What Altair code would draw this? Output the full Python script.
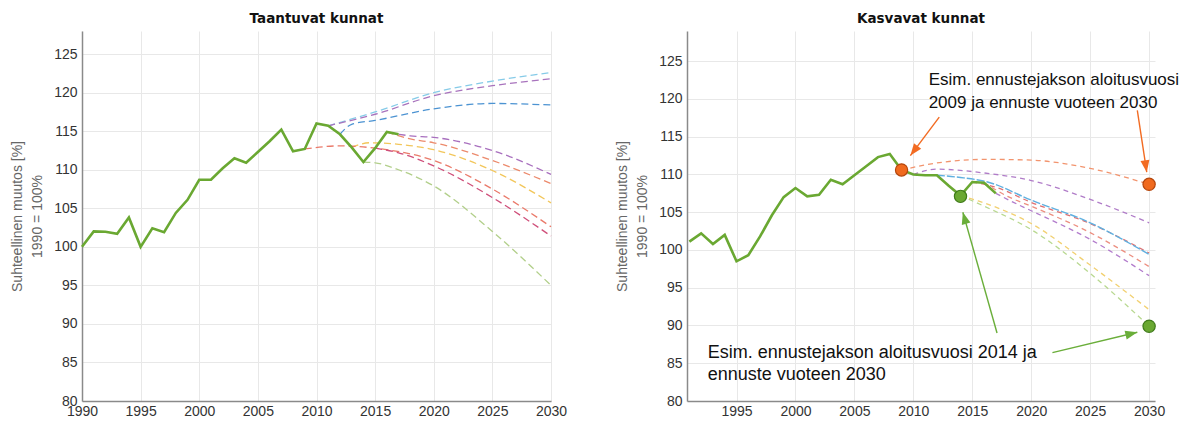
import math
import altair as alt
import pandas as pd

FONT = "Liberation Sans"

# ---------------- Left panel: Taantuvat kunnat ----------------
L_years = list(range(1990, 2018))
L_vals = [100.0, 102.0, 101.96, 101.7, 103.8, 100.0, 102.4, 101.9, 104.4, 106.1,
          108.7, 108.7, 110.2, 111.5, 110.9, 112.3, 113.7, 115.2, 112.4, 112.7,
          116.0, 115.7, 114.6, 112.9, 111.0, 112.8, 114.9, 114.6]

L_proj_names = ["cyan", "purple_up", "blue", "purple_lo", "salmon", "yellow", "red09", "crimson", "green"]
L_proj_colors = ["#86cbe8", "#a873bd", "#4c93d2", "#a86fbe", "#ec8a6c", "#f2c65a", "#ea7a6a", "#cf4f7a", "#b2cf8a"]
L_proj_years = [
    [2011, 2015, 2020, 2025, 2030],
    [2011, 2015, 2020, 2025, 2030],
    [2012, 2013, 2015, 2020, 2025, 2030],
    [2017, 2018, 2020, 2025, 2030],
    [2016, 2018, 2020, 2025, 2030],
    [2013, 2014.5, 2017, 2020, 2025, 2030],
    [2009, 2012, 2015, 2020, 2025, 2030],
    [2015, 2017, 2020, 2025, 2030],
    [2014, 2015, 2017, 2020, 2025, 2030],
]
L_proj_vals = [
    [115.7, 117.5, 120.0, 121.5, 122.6],
    [115.7, 117.2, 119.6, 120.9, 121.8],
    [114.6, 115.9, 116.4, 117.9, 118.6, 118.4],
    [114.6, 114.4, 114.2, 112.5, 109.4],
    [114.9, 114.0, 113.5, 111.2, 108.2],
    [112.9, 113.5, 113.3, 112.6, 109.9, 105.7],
    [112.7, 113.1, 112.8, 111.2, 107.5, 102.6],
    [112.8, 112.2, 110.5, 106.4, 101.4],
    [111.0, 110.9, 110.0, 107.9, 102.0, 95.0],
]

# ---------------- Right panel: Kasvavat kunnat ----------------
R_years = list(range(1991, 2018))
R_vals = [101.1, 102.2, 100.8, 102.0, 98.5, 99.3, 101.8, 104.6, 107.0, 108.2,
          107.1, 107.3, 109.3, 108.7, 109.9, 111.1, 112.3, 112.7, 110.6, 110.0,
          109.9, 109.9, 108.5, 107.2, 109.0, 108.9, 107.5]

R_proj_names = ["orange09", "purple_up", "red15", "salmon16", "purple17", "yellow14", "green14"]
R_proj_colors = ["#f2946e", "#b07cc8", "#e07070", "#ec8f80", "#b27ccc", "#f2d070", "#b8d890"]
R_proj_years = [
    [2009, 2012.6, 2016.3, 2020, 2025, 2030],
    [2010, 2012, 2016, 2020, 2025, 2030],
    [2015, 2017, 2020, 2025, 2030],
    [2016, 2018, 2020, 2025, 2030],
    [2017, 2018.5, 2020, 2025, 2030],
    [2014, 2015.5, 2020, 2025, 2030],
    [2014, 2016, 2020, 2025, 2030],
]
R_proj_vals = [
    [110.6, 111.65, 112.0, 111.9, 110.8, 108.7],
    [110.0, 110.7, 110.2, 109.2, 106.7, 103.6],
    [109.0, 108.3, 106.3, 103.5, 99.6],
    [108.9, 107.1, 105.8, 102.3, 97.8],
    [107.5, 106.3, 105.2, 101.4, 96.6],
    [107.2, 106.5, 103.5, 98.0, 92.1],
    [107.2, 105.8, 102.7, 96.9, 89.9],
]
R_blue_years = [2012, 2014, 2016.3, 2020, 2025, 2030]
R_blue_vals = [109.9, 109.6, 109.0, 106.6, 103.6, 99.4]

R_dot_years = [2009, 2030, 2014, 2030]
R_dot_vals = [110.6, 108.7, 107.1, 89.9]
R_dot_fill = ["#f06a1e", "#f06a1e", "#6aa832", "#6aa832"]
R_dot_edge = ["#b5460c", "#b5460c", "#3f7a1a", "#3f7a1a"]

# arrows: tail -> tip (data coordinates of the right panel)
R_arrow_x1 = [2012.2, 2029.0, 2017.1, 2021.8]
R_arrow_y1 = [117.6, 118.5, 89.0, 86.4]
R_arrow_x2 = [2009.75, 2029.8, 2014.2, 2029.0]
R_arrow_y2 = [112.5, 110.3, 105.0, 89.1]
R_arrow_col = ["#f26b22", "#f26b22", "#6aae3a", "#6aae3a"]

R_text_x = [2011.3, 2011.3, 1992.55, 1992.55]
R_text_y = [122.5, 119.45, 86.4, 83.4]
R_text_size = [17, 17, 18, 18]
R_text = ["Esim. ennustejakson aloitusvuosi", "2009 ja ennuste vuoteen 2030",
          "Esim. ennustejakson aloitusvuosi  2014 ja", "ennuste vuoteen  2030"]

GREEN = "#6aa832"
Y_TITLE = ["Suhteellinen muutos [%]", "1990 = 100%"]
W, H = 469, 370
RW = 468


def proj_df(names, colors, years, vals):
    rows = []
    for n, c, ys, vs in zip(names, colors, years, vals):
        for y, v in zip(ys, vs):
            rows.append({"series": n, "col": c, "year": y, "value": v})
    return pd.DataFrame(rows)


def axes(xdom, ydom, xvals):
    x = alt.X("year:Q", scale=alt.Scale(domain=xdom, nice=False, zero=False),
              axis=alt.Axis(values=xvals, format="d", title=None, labelFontSize=14,
                            labelColor="#333", labelFont=FONT, ticks=False, labelPadding=3,
                            grid=True, gridColor="#e8e8e8", domainColor="#8a8a8a",
                            domainWidth=1.5, labelFlush=False))
    y = alt.Y("value:Q", scale=alt.Scale(domain=ydom, nice=False, zero=False),
              axis=alt.Axis(values=list(range(80, 126, 5)), title=Y_TITLE, titleFontSize=14,
                            titleFont=FONT, titleFontWeight="normal", titleColor="#666",
                            titleLineHeight=20, titlePadding=9, labelFontSize=14,
                            labelColor="#333", labelFont=FONT, ticks=False, labelPadding=5,
                            grid=True, gridColor="#e8e8e8", domainColor="#8a8a8a",
                            domainWidth=1.5))
    return x, y


def title(txt):
    return alt.TitleParams(txt, fontSize=13.5, fontWeight="bold", font="DejaVu Sans",
                           color="#111", offset=6, anchor="middle")


# ---------- left chart ----------
Lx, Ly = axes([1990, 2030], [80, 128], list(range(1990, 2031, 5)))
L_main = pd.DataFrame({"year": L_years, "value": L_vals})
L_proj = proj_df(L_proj_names, L_proj_colors, L_proj_years, L_proj_vals)

left_proj = alt.Chart(L_proj).mark_line(strokeWidth=1.3, strokeDash=[7, 4], interpolate="monotone").encode(
    x=Lx, y=Ly, color=alt.Color("col:N", scale=None), detail="series:N")
left_main = alt.Chart(L_main).mark_line(strokeWidth=2.6, color=GREEN).encode(x=Lx, y=Ly)
left = alt.layer(left_proj, left_main).properties(width=W, height=H, title=title("Taantuvat kunnat"))

# ---------- right chart ----------
RXD = [1990.8, 2030.5]
RYD = [80, 129]
Rx, Ry = axes(RXD, RYD, list(range(1995, 2031, 5)))
R_main = pd.DataFrame({"year": R_years, "value": R_vals})
R_proj = proj_df(R_proj_names, R_proj_colors, R_proj_years, R_proj_vals)
R_blue = pd.DataFrame({"year": R_blue_years, "value": R_blue_vals})

px_x = RW / (RXD[1] - RXD[0])
px_y = H / (RYD[1] - RYD[0])
angles = []
for a, b, c, d in zip(R_arrow_x1, R_arrow_y1, R_arrow_x2, R_arrow_y2):
    dx = (c - a) * px_x
    dy = -(d - b) * px_y
    angles.append(math.degrees(math.atan2(dx, -dy)) % 360)
R_arrows = pd.DataFrame({"year": R_arrow_x1, "value": R_arrow_y1, "year2": R_arrow_x2,
                         "value2": R_arrow_y2, "col": R_arrow_col, "angle": angles})
R_dots = pd.DataFrame({"year": R_dot_years, "value": R_dot_vals, "fill": R_dot_fill, "edge": R_dot_edge})
R_texts = pd.DataFrame({"year": R_text_x, "value": R_text_y, "text": R_text, "size": R_text_size})

right_proj = alt.Chart(R_proj).mark_line(strokeWidth=1.3, strokeDash=[5, 4], interpolate="monotone").encode(
    x=Rx, y=Ry, color=alt.Color("col:N", scale=None), detail="series:N")
right_blue = alt.Chart(R_blue).mark_line(strokeWidth=1.4, strokeDash=[8, 2], color="#5fb0e0",
                                         interpolate="monotone").encode(x=Rx, y=Ry)
right_main = alt.Chart(R_main).mark_line(strokeWidth=2.6, color=GREEN).encode(x=Rx, y=Ry)
right_arrow_lines = alt.Chart(R_arrows).mark_rule(strokeWidth=1.4).encode(
    x=Rx, y=Ry, x2="year2:Q", y2="value2:Q", color=alt.Color("col:N", scale=None))
right_arrow_heads = alt.Chart(R_arrows).mark_point(
    shape="M0,0L-0.9,2.4L0.9,2.4Z", filled=True, size=100, opacity=1).encode(
    x=alt.X("year2:Q", scale=alt.Scale(domain=RXD, nice=False, zero=False)),
    y=alt.Y("value2:Q", scale=alt.Scale(domain=RYD, nice=False, zero=False)),
    angle=alt.Angle("angle:Q", scale=None), color=alt.Color("col:N", scale=None))
right_dots = alt.Chart(R_dots).mark_point(filled=True, size=150, opacity=1, strokeWidth=1.2).encode(
    x=Rx, y=Ry, fill=alt.Fill("fill:N", scale=None), stroke=alt.Stroke("edge:N", scale=None))
right_text = alt.Chart(R_texts).mark_text(align="left", baseline="middle", font=FONT,
                                          color="#111").encode(
    x=Rx, y=Ry, text="text:N", size=alt.Size("size:Q", scale=None))

right = alt.layer(right_proj, right_blue, right_main, right_arrow_lines, right_arrow_heads,
                  right_dots, right_text).properties(width=RW, height=H, title=title("Kasvavat kunnat"))

chart = alt.hconcat(left, right, spacing=48).configure_view(stroke=None).properties(
    padding={"left": 2, "top": 3, "right": 0, "bottom": 0})

chart.save("out.html", embed_options={"renderer": "svg", "actions": False})
